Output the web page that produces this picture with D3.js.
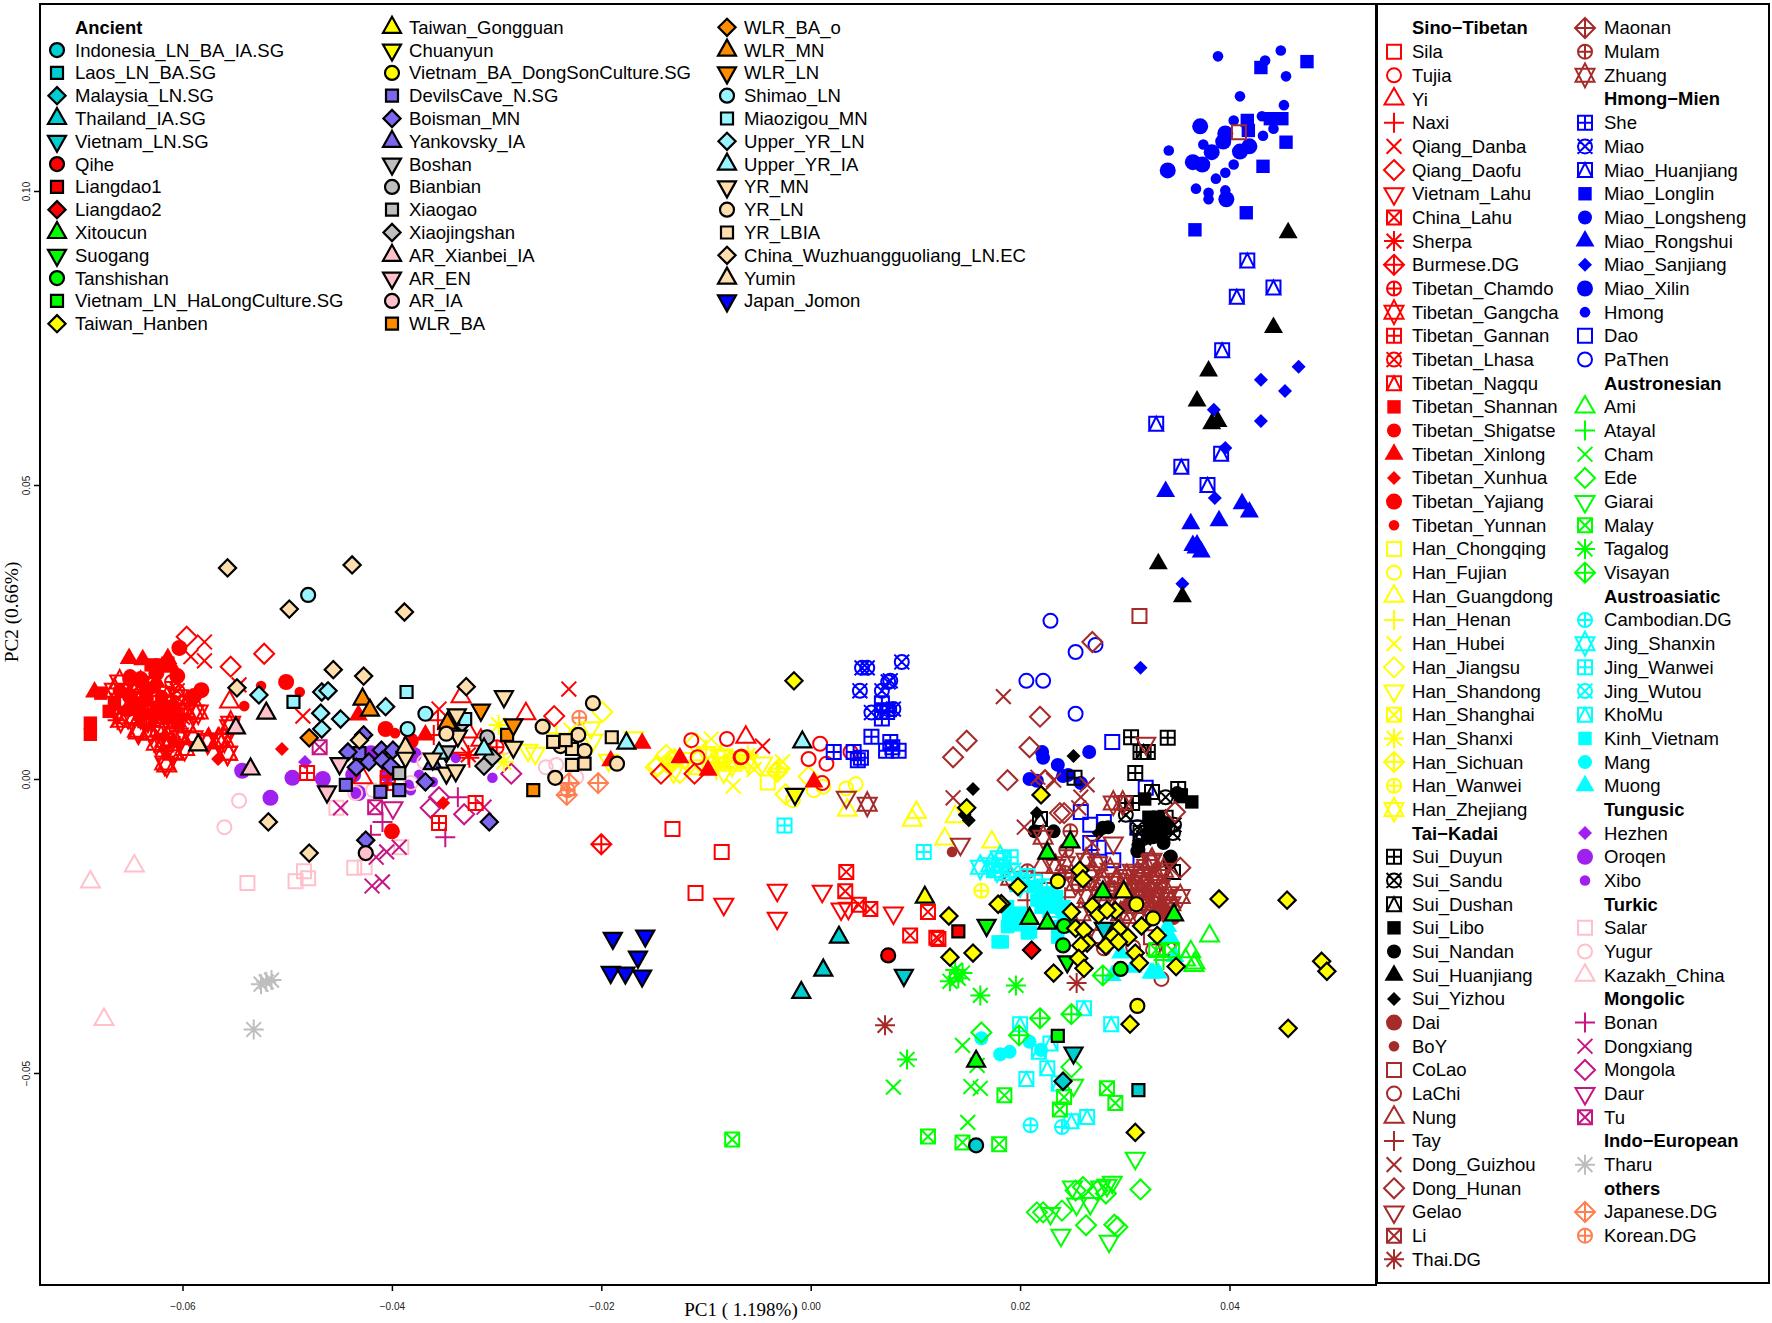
<!DOCTYPE html>
<html>
<head>
<meta charset="utf-8">
<script src="https://cdn.jsdelivr.net/npm/d3@7"></script>
<style>
  html, body { margin: 0; padding: 0; background: #fff; }
  svg { display: block; }
</style>
</head>
<body>
<div id="chart"></div>
<script>
// legend names, in legend order
const tibetoNames = ["Sila","Tujia","Yi","Naxi","Qiang_Danba","Qiang_Daofu","Vietnam_Lahu","China_Lahu","Sherpa","Burmese.DG","Tibetan_Chamdo","Tibetan_Gangcha","Tibetan_Gannan","Tibetan_Lhasa","Tibetan_Nagqu","Tibetan_Shannan","Tibetan_Shigatse","Tibetan_Xinlong","Tibetan_Xunhua","Tibetan_Yajiang","Tibetan_Yunnan"];
const hanNames = ["Han_Chongqing","Han_Fujian","Han_Guangdong","Han_Henan","Han_Hubei","Han_Jiangsu","Han_Shandong","Han_Shanghai","Han_Shanxi","Han_Sichuan","Han_Wanwei","Han_Zhejiang"];
const suiNames = ["Sui_Duyun","Sui_Sandu","Sui_Dushan","Sui_Libo","Sui_Nandan","Sui_Huanjiang","Sui_Yizhou"];
const kadaiNames = ["Dai","BoY","CoLao","LaChi","Nung","Tay","Dong_Guizhou","Dong_Hunan","Gelao","Li","Thai.DG","Maonan","Mulam","Zhuang"];
const hmongNames = ["She","Miao","Miao_Huanjiang","Miao_Longlin","Miao_Longsheng","Miao_Rongshui","Miao_Sanjiang","Miao_Xilin","Hmong","Dao","PaThen"];
const austronesianNames = ["Ami","Atayal","Cham","Ede","Giarai","Malay","Tagalog","Visayan"];
const austroasiaticNames = ["Cambodian.DG","Jing_Shanxin","Jing_Wanwei","Jing_Wutou","KhoMu","Kinh_Vietnam","Mang","Muong"];
const tungusicNames = ["Hezhen","Oroqen","Xibo"];
const turkicNames = ["Salar","Yugur","Kazakh_China"];
const mongolicNames = ["Bonan","Dongxiang","Mongola","Daur","Tu"];
const indoEuropeanNames = ["Tharu"];
const othersNames = ["Japanese.DG","Korean.DG"];
const ancientNames = ["Indonesia_LN_BA_IA.SG","Laos_LN_BA.SG","Malaysia_LN.SG","Thailand_IA.SG","Vietnam_LN.SG","Qihe","Liangdao1","Liangdao2","Xitoucun","Suogang","Tanshishan","Vietnam_LN_HaLongCulture.SG","Taiwan_Hanben","Taiwan_Gongguan","Chuanyun","Vietnam_BA_DongSonCulture.SG","DevilsCave_N.SG","Boisman_MN","Yankovsky_IA","Boshan","Bianbian","Xiaogao","Xiaojingshan","AR_Xianbei_IA","AR_EN","AR_IA","WLR_BA","WLR_BA_o","WLR_MN","WLR_LN","Shimao_LN","Miaozigou_MN","Upper_YR_LN","Upper_YR_IA","YR_MN","YR_LN","YR_LBIA","China_Wuzhuangguoliang_LN.EC","Yumin","Japan_Jomon"];

// PC1, PC2 per population, same order as the names above
const tibetoPoints = [
  [[-.0132,-.0085],[-.0085,-.0124],[-.0110,-.0194]],
  [[-.0114,.0066],[-.0080,.0068],[-.0108,.0037],[.0009,.0060],[-.0002,.0034],[.0015,.0026],[.0011,-.0007],[.0038,.0046],[-.0067,.0037],[-.0066,.0038]],
  [[-.0555,.0131],[-.0334,.0140],[-.0272,.0111],[-.0062,.0071],[-.0334,.0054],[-.0428,.0002],[-.0327,.0080],[-.0315,.0066]],
  [[-.0360,.0075],[-.0326,.0036],[-.0356,.0100]],
  [[-.0579,.0233],[-.0592,.0208],[-.0579,.0201],[-.0546,.0160],[-.0485,.0107],[-.0355,.0119],[-.0231,.0153],[-.0046,.0056]],
  [[-.0596,.0242],[-.0522,.0213],[-.0554,.0191],[-.0245,.0107],[-.0143,.0009],[-.0111,.0009]],
  [[-.0032,-.0189],[.0011,-.0191],[-.0083,-.0213],[-.0032,-.0237],[.0029,-.0221],[.0036,-.0220],[.0079,-.0228]],
  [[.0034,-.0158],[.0033,-.0191],[.0046,-.0214],[.0057,-.0221],[.0112,-.0226],[.0095,-.0266],[.0122,-.0272],[.0120,-.0270]],
  [[-.0662,.0100],[-.0630,.0090],[-.0600,.0105],[-.0327,.0041],[-.0640,.0120]],
  [[-.0200,-.0111]],
  [[-.0650,.0170],[-.0640,.0145],[-.0610,.0165],[-.0625,.0130],[-.0300,.0054]],
  [[-.0615,.0024],[-.0589,.0114],[-.0575,.0066],[-.0565,.0066],[-.0557,.0044],[-.0601,.0071],[-.0608,.0046],[-.0618,.0058],[-.0630,.0078],[-.0642,.0080],[-.0659,.0100],[-.0633,.0100],[-.0611,.0129],[-.0657,.0129],[-.0640,.0163],[-.0554,.0095],[-.0596,.0090],[-.0622,.0085],[-.0590,.0070],[-.0612,.0060],[-.0660,.0165],[-.0665,.0151],[-.0659,.0134],[-.0652,.0106],[-.0643,.0083],[-.0640,.0106],[-.0625,.0061],[-.0617,.0066],[-.0611,.0078],[-.0606,.0100],[-.0604,.0140],[-.0604,.0075],[-.0598,.0052],[-.0617,.0027],[-.0609,.0044],[-.0597,.0117],[-.0585,.0114],[-.0576,.0063],[-.0566,.0066],[-.0555,.0089],[-.0557,.0044],[-.0560,.0066]],
  [[-.0481,.0010],[-.0355,-.0075],[-.0320,-.0041],[-.0404,.0002],[-.0404,-.0007]],
  [[-.0655,.0150],[-.0630,.0160],[-.0605,.0150],[-.0620,.0105],[-.0600,.0130]],
  [[-.0645,.0160],[-.0615,.0145],[-.0635,.0100],[-.0605,.0115]],
  [[-.0688,.0095],[-.0688,.0076],[-.0670,.0115],[-.0678,.0146],[-.0665,.0129],[-.0630,.0194],[-.0621,.0194],[-.0614,.0197],[-.0625,.0190],[-.0640,.0110],[-.0620,.0120],[-.0605,.0100]],
  [[-.0650,.0175],[-.0635,.0155],[-.0620,.0140],[-.0645,.0125],[-.0610,.0120],[-.0630,.0110],[-.0660,.0150],[-.0603,.0222],[-.0643,.0169],[-.0633,.0151],[-.0627,.0157],[-.0649,.0140],[-.0640,.0129],[-.0624,.0123],[-.0614,.0106],[-.0627,.0106],[-.0652,.0117],[-.0611,.0123]],
  [[-.0684,.0148],[-.0651,.0205],[-.0614,.0205],[-.0638,.0203],[-.0625,.0165],[-.0610,.0190],[-.0432,.0109],[-.0368,.0075],[-.0161,.0061],[-.0125,.0036],[-.0098,.0015],[.0003,-.0005],[-.0191,.0031]],
  [[-.0505,.0051],[-.0566,.0034],[-.0351,-.0041]],
  [[-.0603,.0223],[-.0582,.0151],[-.0589,.0141],[-.0501,.0165],[-.0406,.0085],[-.0382,.0065],[-.0400,-.0089],[-.0640,.0170],[-.0625,.0180],[-.0605,.0175],[-.0635,.0135],[-.0615,.0105],[-.0650,.0140]],
  [[-.0541,.0124],[-.0525,.0158],[-.0488,.0148],[-.0397,.0078]]
];
const hanPoints = [
  [[-.0041,-.0006]],
  [[.0034,-.0016],[.0043,-.0009],[.0003,-.0019],[.0012,-.0013],[-.0017,-.0036]],
  [[.0035,-.0053],[.0101,-.0057],[.0097,-.0070],[.0128,-.0102],[.0138,-.0064],[.0173,-.0107]],
  [[-.0243,.0078],[-.0100,.0050],[-.0090,.0015]],
  [[-.0074,-.0012],[-.0095,.0068],[-.0054,.0016],[-.0027,.0029],[-.0229,.0083]],
  [[-.0138,.0041],[-.0146,.0022],[-.0134,.0032],[-.0110,.0061],[-.0024,-.0026],[-.0002,.0004],[-.0199,.0114],[-.0148,.0020],[-.0125,.0010]],
  [[-.0084,.0041],[-.0064,.0037],[-.0046,.0027],[-.0083,.0012],[-.0091,.0027],[-.0131,.0012],[-.0263,.0044],[-.0270,.0049],[-.0208,.0066],[-.0210,.0087],[-.0193,.0032],[-.0169,.0070],[-.0120,.0035],[-.0100,.0045]],
  [[-.0110,.0020],[-.0075,.0030]],
  [[-.0089,.0029],[-.0298,.0092],[-.0293,.0029],[-.0060,.0040]],
  [[-.0032,.0012],[-.0030,.0018],[-.0135,.0024],[-.0130,.0034]],
  [[.0163,-.0190]],
  [[-.0086,.0037],[-.0060,.0030],[-.0075,.0025]]
];
const suiPoints = [
  [[.0306,.0071],[.0341,.0070],[.0315,.0046],[.0322,.0046],[.0310,.0010],[.0252,.0002],[.0351,-.0017],[.0307,-.0041],[.0301,-.0041]],
  [[.0339,-.0031],[.0301,-.0061],[.0312,-.0082],[.0329,-.0080],[.0346,-.0092],[.0341,-.0083],[.0347,-.0078],[.0318,-.0100]],
  [[.0326,-.0022],[.0318,.0046],[.0219,-.0068],[.0346,-.0158],[.0315,-.0092],[.0339,-.0066]],
  [[.0364,-.0039],[.0354,-.0027],[.0319,-.0034],[.0323,-.0065],[.0332,-.0065],[.0329,-.0090],[.0339,-.0083],[.0353,-.0030],[.0325,-.0080],[.0335,-.0075]],
  [[.0214,-.0089],[.0232,-.0089],[.0284,-.0082],[.0279,-.0083],[.0313,-.0112],[.0312,-.0123],[.0327,-.0099],[.0337,-.0109],[.0343,-.0133],[.0343,-.0143],[.0322,-.0099],[.0350,-.0024],[.0325,-.0070],[.0334,-.0070],[.0325,-.0092],[.0334,-.0098],[.0313,-.0121],[.0344,-.0132],[.0329,-.0087]],
  [[.0456,.0929],[.0442,.0768],[.0380,.0694],[.0369,.0643],[.0389,.0608],[.0383,.0604],[.0332,.0366],[.0355,.0310]],
  [[.0155,-.0017],[.0147,-.0061],[.0151,-.0070],[.0251,.0039],[.0216,-.0058],[.0275,-.0092]]
];
const kadaiPoints = [
  [[.0341,-.0228],[.0334,-.0218],[.0346,-.0235]],
  [[.0135,-.0124],[.0300,-.0215]],
  [[.0314,.0277],[.0409,.1100],[.0325,-.0269],[.0335,-.0269]],
  [[.0335,-.0340],[.0327,-.0291],[.0342,-.0288],[.0280,-.0288],[.0308,-.0286]],
  [[.0220,-.0150],[.0264,-.0138],[.0292,-.0170]],
  [[.0221,-.0177],[.0207,-.0206],[.0243,-.0201]],
  [[.0184,.0140],[.0136,-.0032],[.0204,-.0082],[.0232,-.0002],[.0258,-.0031],[.0264,-.0010],[.0256,-.0049],[.0217,.0003],[.0269,-.0109]],
  [[.0269,.0233],[.0219,.0106],[.0209,.0054],[.0188,-.0002],[.0224,-.0002],[.0238,-.0058],[.0242,-.0058],[.0149,.0065],[.0136,.0037],[.0348,-.0056],[.0353,-.0151]],
  [[.0034,-.0031],[.0143,-.0111],[.0289,-.0109],[.0320,.0061],[.0307,-.0155],[.0334,-.0158]],
  [[.0300,-.0180],[.0320,-.0200]],
  [[.0071,-.0419],[.0254,-.0347]],
  [[.0290,-.0190]],
  [[.0248,-.0089],[.0207,-.0157],[.0244,-.0121],[.0243,-.0160],[.0256,-.0180]],
  [[.0054,-.0043],[.0222,-.0099],[.0298,-.0041],[.0289,-.0041],[.0325,-.0141],[.0263,-.0138],[.0274,-.0144],[.0286,-.0155],[.0267,-.0161],[.0277,-.0178],[.0293,-.0172],[.0302,-.0166],[.0312,-.0161],[.0321,-.0149],[.0326,-.0138],[.0309,-.0175],[.0318,-.0178],[.0328,-.0175],[.0306,-.0189],[.0315,-.0189],[.0325,-.0189],[.0334,-.0183],[.0312,-.0200],[.0321,-.0200],[.0331,-.0200],[.0341,-.0195],[.0264,-.0200],[.0274,-.0195],[.0286,-.0189],[.0296,-.0206],[.0318,-.0212],[.0328,-.0212],[.0353,-.0200],[.0302,-.0234],[.0309,-.0217],[.0325,-.0229],[.0337,-.0223],[.0341,-.0217],[.0344,-.0212],[.0274,-.0268],[.0258,-.0229],[.0296,-.0229],[.0337,-.0155],[.0331,-.0166],[.0315,-.0166],[.0191,-.0169],[.0253,-.0178],[.0243,-.0144],[.0234,-.0149]]
];
const hmongPoints = [
  [[.0068,.0129],[.0068,.0103],[.0068,.0114],[.0073,.0114],[.0058,.0072],[.0076,.0063],[.0072,.0048],[.0084,.0048],[.0078,.0054],[.0022,.0046],[.0041,.0046],[.0048,.0036],[.0045,.0032]],
  [[.0049,.0189],[.0054,.0189],[.0087,.0199],[.0047,.0150],[.0068,.0150],[.0076,.0167],[.0074,.0165],[.0058,.0113],[.0079,.0119],[.0075,.0118]],
  [[.0417,.0882],[.0442,.0836],[.0407,.0820],[.0393,.0729],[.0330,.0604],[.0392,.0553],[.0354,.0531],[.0379,.0500]],
  [[.0430,.1210],[.0474,.1220],[.0417,.1120],[.0418,.1103],[.0439,.1123],[.0450,.1123],[.0454,.1083],[.0432,.1042],[.0416,.0963],[.0367,.0934]],
  [[.0221,.0046],[.0222,.0036],[.0236,.0024],[.0241,.0005],[.0246,.0007],[.0258,-.0007],[.0266,.0046],[.0209,.0000],[.0216,-.0003]],
  [[.0339,.0489],[.0412,.0468],[.0419,.0454],[.0390,.0439],[.0363,.0434],[.0365,.0397],[.0368,.0393],[.0369,.0398],[.0373,.0386]],
  [[.0466,.0701],[.0430,.0679],[.0453,.0660],[.0385,.0628],[.0430,.0609],[.0396,.0563],[.0386,.0478],[.0355,.0332],[.0315,.0189]],
  [[.0372,.1110],[.0396,.1098],[.0394,.1084],[.0383,.1066],[.0419,.1076],[.0410,.1067],[.0365,.1049],[.0374,.1045],[.0341,.1035],[.0397,.0986]],
  [[.0389,.1229],[.0434,.1222],[.0449,.1239],[.0454,.1195],[.0410,.1161],[.0452,.1146],[.0404,.1120],[.0431,.1127],[.0442,.1106],[.0432,.1094],[.0342,.1069],[.0375,.1079],[.0404,.1045],[.0396,.1031],[.0387,.1021],[.0368,.1004],[.0380,.0997],[.0396,.1001],[.0380,.0986]],
  [[.0288,.0063],[.0258,-.0056],[.0267,-.0078],[.0280,-.0073],[.0267,-.0109],[.0275,-.0117],[.0289,-.0138],[.0320,-.0015],[.0315,-.0138],[.0312,-.0083]],
  [[.0229,.0269],[.0253,.0216],[.0272,.0228],[.0206,.0167],[.0222,.0167],[.0253,.0111]]
];
const austronesianPoints = [
  [[.0366,-.0317],[.0381,-.0267],[.0363,-.0294],[.0367,-.0313],[.0358,-.0308]],
  [[.0337,-.0308],[.0330,-.0300]],
  [[.0153,-.0523],[.0162,-.0526],[.0150,-.0584],[.0145,-.0453],[.0159,-.0487],[.0079,-.0524]],
  [[.0163,-.0431],[.0249,-.0490],[.0315,-.0698],[.0260,-.0694],[.0222,-.0737],[.0240,-.0734],[.0263,-.0759],[.0293,-.0762],[.0290,-.0758],[.0282,-.0705],[.0274,-.0700],[.0216,-.0737],[.0253,-.0700]],
  [[.0251,-.0521],[.0310,-.0645],[.0250,-.0694],[.0254,-.0723],[.0267,-.0722],[.0239,-.0776],[.0285,-.0786],[.0288,-.0686],[.0283,-.0691],[.0277,-.0694],[.0229,-.0739]],
  [[.0185,-.0538],[.0283,-.0526],[.0291,-.0551],[.0242,-.0541],[.0238,-.0562],[.0180,-.0621],[.0145,-.0618],[-.0075,-.0613],[.0112,-.0608],[.0330,-.0291],[.0345,-.0291]],
  [[.0162,-.0368],[.0196,-.0351],[.0145,-.0330],[.0092,-.0477],[.0138,-.0325],[.0141,-.0339],[.0133,-.0344]],
  [[.0219,-.0407],[.0249,-.0400],[.0199,-.0436],[.0279,-.0334]]
];
const austroasiaticPoints = [
  [[.0210,-.0589],[.0240,-.0592]],
  [[.0162,-.0150],[.0172,-.0146],[.0181,-.0134],[.0178,-.0155],[.0200,-.0180]],
  [[-.0025,-.0079],[.0108,-.0124],[.0175,-.0155],[.0183,-.0160],[.0180,-.0148],[.0184,-.0138],[.0191,-.0133],[.0214,-.0175],[.0207,-.0165]],
  [[.0194,-.0155],[.0200,-.0170]],
  [[.0200,-.0417],[.0261,-.0390],[.0287,-.0417],[.0229,-.0450],[.0218,-.0464],[.0226,-.0492],[.0206,-.0510],[.0264,-.0575],[.0249,-.0582],[.0237,-.0518],[.0229,-.0223],[.0223,-.0183]],
  [[.0179,-.0277],[.0189,-.0240],[.0191,-.0240],[.0200,-.0248],[.0210,-.0260],[.0183,-.0277],[.0236,-.0269],[.0220,-.0194],[.0226,-.0206],[.0232,-.0218],[.0220,-.0218],[.0242,-.0235],[.0188,-.0217],[.0194,-.0234],[.0200,-.0228],[.0216,-.0206],[.0222,-.0217],[.0235,-.0200],[.0229,-.0194],[.0213,-.0183],[.0242,-.0217],[.0245,-.0251],[.0236,-.0251],[.0188,-.0251],[.0207,-.0262]],
  [[.0163,-.0441],[.0181,-.0468],[.0190,-.0464],[.0209,-.0447],[.0220,-.0461]],
  [[.0327,-.0330],[.0348,-.0302],[.0343,-.0268],[.0341,-.0251],[.0296,-.0296],[.0325,-.0330],[.0288,-.0334],[.0308,-.0320],[.0344,-.0271],[.0332,-.0330]]
];
const tungusicPoints = [
  [[-.0483,.0029]],
  [[-.0543,.0014],[-.0495,.0002],[-.0466,.0000],[-.0516,-.0032],[-.0437,.0007],[-.0420,.0044],[-.0379,.0041],[-.0404,.0007],[-.0432,-.0024]],
  [[-.0304,.0002],[-.0384,-.0010],[-.0361,-.0005],[-.0339,.0036],[-.0374,.0007],[-.0382,-.0019]]
];
const turkicPoints = [
  [[-.0538,-.0177],[-.0492,-.0174],[-.0480,-.0169],[-.0484,-.0157],[-.0436,-.0151],[-.0426,-.0150],[-.0391,-.0116],[-.0453,-.0049]],
  [[-.0546,-.0037],[-.0560,-.0082],[-.0435,-.0024],[-.0418,-.0019],[-.0382,-.0007],[-.0369,.0029],[-.0253,.0020],[-.0243,.0024],[-.0224,.0003],[-.0293,.0054]],
  [[-.0688,-.0175],[-.0646,-.0148],[-.0675,-.0409]]
];
const mongolicPoints = [
  [[-.0409,-.0073],[-.0349,-.0099],[-.0337,-.0031],[-.0420,-.0095]],
  [[-.0405,-.0124],[-.0393,-.0116],[-.0409,-.0175],[-.0419,-.0182],[-.0415,-.0133],[-.0449,-.0049],[-.0312,-.0048]],
  [[-.0286,.0009],[-.0363,-.0049],[-.0331,-.0060],[-.0355,-.0031]],
  [[-.0399,-.0049]],
  [[-.0416,-.0048],[-.0469,.0054]]
];
const indoEuropeanPoints = [
  [[-.0525,-.0349],[-.0515,-.0342],[-.0532,-.0426],[-.0520,-.0345]]
];
const othersPoints = [
  [[-.0203,-.0007],[-.0233,-.0027],[-.0231,-.0007]],
  [[-.0221,.0104],[-.0232,-.0019]]
];
const ancientPoints = [
  [[.0158,-.0623]],
  [[.0313,-.0529]],
  [[.0241,-.0514]],
  [[.0027,-.0269],[.0012,-.0325],[-.0009,-.0363]],
  [[.0280,-.0254],[.0089,-.0334],[.0251,-.0466]],
  [[.0074,-.0300]],
  [[.0141,-.0259]],
  [[.0211,-.0291]],
  [[.0248,-.0107],[.0226,-.0126],[.0279,-.0192],[.0209,-.0237],[.0226,-.0245],[.0347,-.0231],[.0158,-.0480]],
  [[.0168,-.0249],[.0245,-.0311]],
  [[.0242,-.0250],[.0241,-.0283],[.0296,-.0323]],
  [[.0236,-.0437]],
  [[.0220,-.0027],[.0198,-.0183],[.0257,-.0155],[.0260,-.0170],[.0269,-.0216],[.0275,-.0231],[.0249,-.0226],[.0291,-.0224],[.0283,-.0223],[.0253,-.0254],[.0261,-.0257],[.0294,-.0255],[.0316,-.0250],[.0331,-.0266],[.0303,-.0269],[.0289,-.0268],[.0264,-.0279],[.0258,-.0283],[.0282,-.0284],[.0294,-.0277],[.0310,-.0296],[.0314,-.0313],[.0256,-.0305],[.0261,-.0322],[.0349,-.0319],[.0232,-.0330],[.0390,-.0204],[.0182,-.0212],[.0455,-.0206],[.0488,-.0310],[.0493,-.0327],[.0456,-.0424],[.0305,-.0417],[.0310,-.0601],[-.0016,.0167],[.0179,-.0213],[.0132,-.0233],[.0133,-.0303],[.0155,-.0296],[.0149,-.0049]],
  [[.0109,-.0201],[.0299,-.0192]],
  [[-.0015,-.0026]],
  [[.0236,-.0174],[.0311,-.0213],[.0327,-.0237],[.0312,-.0386]],
  [[-.0431,.0044],[-.0444,-.0010],[-.0411,-.0022],[-.0393,-.0019]],
  [[-.0442,.0046],[-.0434,.0020],[-.0422,.0029],[-.0410,.0049],[-.0399,.0049],[-.0409,.0032],[-.0401,.0022],[-.0368,-.0005],[-.0307,-.0073],[-.0425,-.0104],[-.0427,.0075]],
  [[-.0361,.0026]],
  [[-.0348,.0046]],
  [[-.0309,.0071],[-.0334,.0095]],
  [[-.0393,.0010]],
  [[-.0312,.0022],[-.0304,.0037],[-.0333,.0095]],
  [[-.0520,.0112],[-.0549,.0087],[-.0535,.0017]],
  [[-.0450,.0026],[-.0462,-.0022]],
  [[-.0425,-.0126]],
  [[-.0265,-.0019],[-.0290,.0075]],
  [[-.0479,.0070]],
  [[-.0428,.0136],[-.0421,.0117],[-.0347,.0095]],
  [[-.0315,.0117],[-.0284,.0092]],
  [[-.0480,.0313],[-.0368,.0111],[-.0385,.0085]],
  [[-.0494,.0131],[-.0386,.0148],[-.0330,.0102]],
  [[-.0527,.0143],[-.0467,.0148],[-.0461,.0150],[-.0468,.0112],[-.0449,.0102],[-.0467,.0085],[-.0406,.0123]],
  [[-.0008,.0063],[-.0176,.0061],[-.0312,.0051],[-.0355,.0044]],
  [[-.0293,.0140],[-.0338,.0109],[-.0337,.0073],[-.0387,.0037],[-.0361,.0034],[-.0348,.0010],[-.0339,.0014],[-.0284,.0054]],
  [[-.0208,.0129],[-.0256,.0089],[-.0348,.0077],[-.0239,.0056],[-.0222,.0075],[-.0216,.0048],[-.0185,.0026],[-.0244,.0002]],
  [[-.0246,.0063],[-.0190,.0071],[-.0228,.0051],[-.0228,.0024],[-.0216,.0026],[-.0234,.0066]],
  [[-.0557,.0359],[-.0438,.0364],[-.0498,.0289],[-.0388,.0284],[-.0548,.0155],[-.0456,.0186],[-.0427,.0175],[-.0329,.0157],[-.0431,.0066],[-.0518,-.0073],[-.0479,-.0126]],
  [[-.0585,.0058],[-.0387,.0054]],
  [[-.0189,-.0271],[-.0158,-.0267],[-.0165,-.0303],[-.0191,-.0329],[-.0177,-.0330],[-.0161,-.0335]]
];

const xTicks = [-0.06, -0.04, -0.02, 0, 0.02, 0.04];
const yTicks = [-0.05, 0, 0.05, 0.10];

// colours of the ancient samples, one per run of populations
const ancientColorRuns = [["#00CED1",5],["#FF0000",3],["#00FF00",4],["#FFFF00",4],["#7B68EE",3],["#BEBEBE",4],["#FFC0CB",3],["#FF8C00",4],["#98F5FF",4],["#FFDEAD",5],["#0000FF",1]];

var width = 1772, height = 1323;

var svg = d3.select("#chart").append("svg")
    .attr("width", width)
    .attr("height", height)
    .style("font-family", "'Liberation Sans', Arial, sans-serif");

var x = d3.scaleLinear().domain([-0.06, 0.04]).range([182.5, 1229.5]);
var y = d3.scaleLinear().domain([0, 0.10]).range([779, 191]);

// R pch style marker outline
function markerPath(pch) {
    var p = d3.path();
    function square(s) { p.rect(-s, -s, 2 * s, 2 * s); }
    function circle(r) { p.moveTo(r, 0); p.arc(0, 0, r, 0, 2 * Math.PI); }
    function tri(w, top, bottom) { p.moveTo(0, top); p.lineTo(w, bottom); p.lineTo(-w, bottom); p.closePath(); }
    function diamond(s) { p.moveTo(0, -s); p.lineTo(s, 0); p.lineTo(0, s); p.lineTo(-s, 0); p.closePath(); }
    function plus(s) { p.moveTo(-s, 0); p.lineTo(s, 0); p.moveTo(0, -s); p.lineTo(0, s); }
    function cross(s) { p.moveTo(-s, -s); p.lineTo(s, s); p.moveTo(-s, s); p.lineTo(s, -s); }

    if (pch == 0) square(7);
    else if (pch == 1) circle(7);
    else if (pch == 2) tri(9.5, -11, 5.5);
    else if (pch == 3) plus(10);
    else if (pch == 4) cross(7.4);
    else if (pch == 5) diamond(10);
    else if (pch == 6) tri(9.5, 11, -5.5);
    else if (pch == 7) { square(7); cross(7); }
    else if (pch == 8) { plus(10); cross(7.4); }
    else if (pch == 9) { diamond(10); plus(10); }
    else if (pch == 10) { circle(7); plus(7); }
    else if (pch == 11) { tri(9.5, -12, 6.5); tri(9.5, 12, -6.5); }
    else if (pch == 12) { square(7); plus(7); }
    else if (pch == 13) { circle(7); cross(7.4); }
    else if (pch == 14) { square(7); tri(7, -7, 7); }
    else if (pch == 15) square(6.7);
    else if (pch == 16) circle(7);
    else if (pch == 17) tri(9.5, -11, 5.5);
    else if (pch == 18) diamond(7);
    else if (pch == 19) circle(8);
    else if (pch == 20) circle(5.3);
    else if (pch == 21) circle(7);
    else if (pch == 22) square(6);
    else if (pch == 23) diamond(8.6);
    else if (pch == 24) tri(9, -10.5, 5.5);
    else if (pch == 25) tri(9, 10.5, -5.5);
    return p.toString();
}

function drawMarker(g, pch, color) {
    var solid = pch >= 15 && pch <= 20;
    var ancient = pch >= 21;
    return g.append("path")
        .attr("d", markerPath(pch))
        .attr("fill", ancient || solid ? color : "none")
        .attr("stroke", ancient ? "#000" : color)
        .attr("stroke-width", ancient ? 2.2 : solid ? 0 : 2);
}

// modern samples take pch 0-20 in turn through the legend, ancient ones 21-25
var legendGroups = [
    { title: "Sino\u2212Tibetan", parts: [[tibetoNames, tibetoPoints, "#FF0000"], [hanNames, hanPoints, "#FFFF00"]] },
    { title: "Tai\u2212Kadai", parts: [[suiNames, suiPoints, "#000000"], [kadaiNames, kadaiPoints, "#A52A2A"]] },
    { title: "Hmong\u2212Mien", parts: [[hmongNames, hmongPoints, "#0000FF"]] },
    { title: "Austronesian", parts: [[austronesianNames, austronesianPoints, "#00FF00"]] },
    { title: "Austroasiatic", parts: [[austroasiaticNames, austroasiaticPoints, "#00FFFF"]] },
    { title: "Tungusic", parts: [[tungusicNames, tungusicPoints, "#A020F0"]] },
    { title: "Turkic", parts: [[turkicNames, turkicPoints, "#FFC0CB"]] },
    { title: "Mongolic", parts: [[mongolicNames, mongolicPoints, "#C71585"]] },
    { title: "Indo\u2212European", parts: [[indoEuropeanNames, indoEuropeanPoints, "#BEBEBE"]] },
    { title: "others", parts: [[othersNames, othersPoints, "#FF7F50"]] }
];

var rows = [];
var pops = {};
var n = 0;
legendGroups.forEach(function (grp) {
    rows.push({ title: grp.title });
    grp.parts.forEach(function (part) {
        part[0].forEach(function (name, i) {
            var row = { name: name, pch: n % 21, color: part[2], points: part[1][i] };
            rows.push(row);
            pops[name] = row;
            n++;
        });
    });
});

var ancientColors = [];
ancientColorRuns.forEach(function (run) {
    for (var i = 0; i < run[1]; i++) ancientColors.push(run[0]);
});
var ancientRows = ancientNames.map(function (name, i) {
    return { name: name, pch: 21 + i % 5, color: ancientColors[i], points: ancientPoints[i] };
});

// painting order of the reference, not the legend order
var drawOrder = []
    .concat(tungusicNames, turkicNames, mongolicNames, othersNames, hanNames, tibetoNames, hmongNames, suiNames, kadaiNames, austroasiaticNames, austronesianNames, indoEuropeanNames)
    .map(function (name) { return pops[name]; })
    .concat(ancientRows);

var plot = svg.append("g");
drawOrder.forEach(function (pop) {
    pop.points.forEach(function (pt) {
        var g = plot.append("g")
            .attr("transform", "translate(" + x(pt[0]) + "," + y(pt[1]) + ")");
        drawMarker(g, pop.pch, pop.color);
    });
});

// boxes
svg.append("rect").attr("x", 40).attr("y", 4).attr("width", 1336).attr("height", 1281)
    .attr("fill", "none").attr("stroke", "#000").attr("stroke-width", 2);
svg.append("rect").attr("x", 1377).attr("y", 4).attr("width", 392).attr("height", 1279)
    .attr("fill", "none").attr("stroke", "#000").attr("stroke-width", 2);

// axes
var xAxis = svg.append("g")
    .attr("transform", "translate(0,1285)")
    .call(d3.axisBottom(x).tickValues(xTicks).tickSize(6).tickPadding(12).tickFormat(d3.format(".2f")));
var yAxis = svg.append("g")
    .attr("transform", "translate(40,0)")
    .call(d3.axisLeft(y).tickValues(yTicks).tickSize(6).tickPadding(4).tickFormat(d3.format(".2f")));
xAxis.select(".domain").remove();
yAxis.select(".domain").remove();
xAxis.selectAll("text").style("font-size", "10px").style("font-family", "'Liberation Sans', Arial, sans-serif").attr("fill", "#222");
yAxis.selectAll("text").style("font-size", "10px").style("font-family", "'Liberation Sans', Arial, sans-serif").attr("fill", "#222")
    .attr("transform", function () {
        var t = d3.select(this);
        return "rotate(-90," + t.attr("x") + ",0)";
    })
    .attr("text-anchor", "middle").attr("dy", "0");
xAxis.selectAll("line").attr("stroke-width", 1.5);
yAxis.selectAll("line").attr("stroke-width", 1.5);

svg.append("text").attr("x", 741).attr("y", 1316)
    .attr("text-anchor", "middle")
    .style("font-family", "'Liberation Serif', serif").style("font-size", "19px")
    .text("PC1 ( 1.198%)");
svg.append("text")
    .attr("transform", "translate(18,612) rotate(-90)")
    .attr("text-anchor", "middle")
    .style("font-family", "'Liberation Serif', serif").style("font-size", "19.3px")
    .text("PC2 (0.66%)");

function legendItem(row, markerX, textX, yPos) {
    if (row.title) {
        svg.append("text").attr("x", textX).attr("y", yPos).attr("dy", "0.35em")
            .style("font-size", "18.4px").style("font-weight", "bold").text(row.title);
        return;
    }
    var g = svg.append("g").attr("transform", "translate(" + markerX + "," + yPos + ")");
    drawMarker(g, row.pch, row.color);
    svg.append("text").attr("x", textX).attr("y", yPos).attr("dy", "0.35em")
        .style("font-size", "18.55px").text(row.name);
}

// right legend, two columns
rows.forEach(function (row, i) {
    var col = i < 53 ? 0 : 1;
    var r = col ? i - 53 : i;
    legendItem(row, col ? 1585 : 1394, col ? 1604 : 1412, 28 + r * 23.68);
});

// ancient legend, three columns
var ancientLegend = [{ title: "Ancient" }].concat(ancientRows);
ancientLegend.forEach(function (row, i) {
    var col = i < 14 ? 0 : i < 28 ? 1 : 2;
    var r = i - col * 14;
    legendItem(row, [57, 392, 727][col], [75, 409, 744][col], 27.3 + r * 22.8);
});
</script>
</body>
</html>
